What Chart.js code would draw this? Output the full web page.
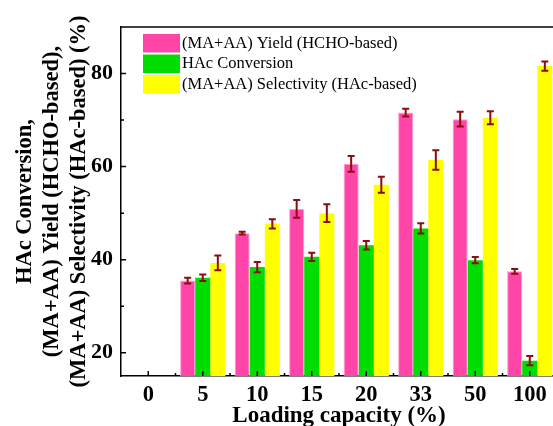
<!DOCTYPE html>
<html>
<head>
<meta charset="utf-8">
<script src="https://cdn.jsdelivr.net/npm/chart.js@4/dist/chart.umd.min.js"></script>
<style>
  html, body { margin: 0; padding: 0; overflow: hidden; background: #fff; }
  #wrap { width: 560px; height: 426px; }
</style>
</head>
<body>
<div id="wrap"><canvas id="chart"></canvas></div>
<script>
// Loading capacity (%) categories
const categories = ['0', '5', '10', '15', '20', '33', '50', '100'];

// (MA+AA) Yield (HCHO-based)
const yieldVals = [null, 35.5, 45.7, 50.9, 60.6, 71.6, 70.2, 37.5];
const yieldErr  = [0, 0.6, 0.3, 1.9, 1.7, 0.85, 1.6, 0.5];
// HAc Conversion
const convVals = [null, 36.1, 38.4, 40.6, 43.1, 46.7, 39.9, 18.3];
const convErr  = [0, 0.7, 1.1, 0.9, 0.9, 1.1, 0.65, 1.0];
// (MA+AA) Selectivity (HAc-based)
const selVals = [null, 39.3, 47.7, 50.0, 56.1, 61.4, 70.5, 81.6];
const selErr  = [0, 1.6, 1.0, 1.9, 1.7, 2.1, 1.4, 1.0];

const yMajor = [20, 40, 60, 80];
const yMinor = [30, 50, 70];

const serif = "'Liberation Serif', 'DejaVu Serif', serif";

// error bars drawn from the y scale
const errorBars = {
    id: 'errorBars',
    afterDatasetsDraw(chart) {
        const ctx = chart.ctx;
        const y = chart.scales.y;
        ctx.save();
        ctx.strokeStyle = '#8b0d0d';
        ctx.lineWidth = 2;
        chart.data.datasets.forEach((ds, di) => {
            const meta = chart.getDatasetMeta(di);
            meta.data.forEach((bar, i) => {
                const v = ds.data[i];
                if (v == null) return;
                const e = ds.errors[i];
                const top = y.getPixelForValue(v + e);
                const bot = y.getPixelForValue(v - e);
                const cap = 3.5;
                ctx.beginPath();
                ctx.moveTo(bar.x, top); ctx.lineTo(bar.x, bot);
                ctx.moveTo(bar.x - cap, top); ctx.lineTo(bar.x + cap, top);
                ctx.moveTo(bar.x - cap, bot); ctx.lineTo(bar.x + cap, bot);
                ctx.stroke();
            });
        });
        ctx.restore();
    }
};

// inward ticks, frame and the legend inside the plot
const frame = {
    id: 'frame',
    afterDraw(chart) {
        const ctx = chart.ctx;
        const a = chart.chartArea;
        const x = chart.scales.x, y = chart.scales.y;
        ctx.save();
        ctx.strokeStyle = '#000';
        ctx.lineWidth = 1.5;
        ctx.beginPath();
        ctx.moveTo(a.left, a.top); ctx.lineTo(a.right, a.top); ctx.lineTo(a.right, a.bottom);
        yMajor.forEach(v => {
            const py = y.getPixelForValue(v);
            ctx.moveTo(a.left, py); ctx.lineTo(a.left + 5, py);
        });
        yMinor.forEach(v => {
            const py = y.getPixelForValue(v);
            ctx.moveTo(a.left, py); ctx.lineTo(a.left + 3, py);
        });
        const half = (x.getPixelForValue(1) - x.getPixelForValue(0)) / 2;
        categories.forEach((c, i) => {
            const px = x.getPixelForValue(i);
            ctx.moveTo(px, a.bottom); ctx.lineTo(px, a.bottom - 5);
            ctx.moveTo(px + half, a.bottom); ctx.lineTo(px + half, a.bottom - 3);
        });
        ctx.stroke();

        // legend
        ctx.font = '16.5px ' + serif;
        ctx.textBaseline = 'middle';
        ctx.textAlign = 'left';
        const lx = a.left + 22;
        let ly = a.top + 7;
        chart.data.datasets.forEach(ds => {
            ctx.fillStyle = ds.backgroundColor;
            ctx.fillRect(lx, ly, 37, 18.5);
            ctx.fillStyle = '#000';
            ctx.fillText(ds.label, lx + 39, ly + 9.5);
            ly += 20.5;
        });
        ctx.restore();
    }
};

new Chart(document.getElementById('chart'), {
    type: 'bar',
    data: {
        labels: categories,
        datasets: [{
            label: '(MA+AA) Yield (HCHO-based)',
            data: yieldVals,
            errors: yieldErr,
            backgroundColor: '#ff45a8',
            borderColor: '#ff9ccf',
            borderWidth: 1,
        }, {
            label: 'HAc Conversion',
            data: convVals,
            errors: convErr,
            backgroundColor: '#00dd00',
            borderColor: '#00dd00',
            borderWidth: 0,
        }, {
            label: '(MA+AA) Selectivity (HAc-based)',
            data: selVals,
            errors: selErr,
            backgroundColor: '#ffff00',
            borderColor: '#ffff00',
            borderWidth: 0,
        }]
    },
    options: {
        responsive: true,
        maintainAspectRatio: false,
        animation: false,
        layout: { padding: { top: 27, right: 3, left: 0, bottom: 0 } },
        datasets: { bar: { categoryPercentage: 0.83, barPercentage: 1.0 } },
        scales: {
            x: {
                grid: { display: false, drawTicks: false },
                border: { display: true, color: '#000', width: 1.5 },
                ticks: { color: '#000', padding: 6, font: { family: serif, size: 22.5, weight: 'bold' } },
                title: {
                    display: true,
                    text: 'Loading capacity (%)',
                    color: '#000',
                    padding: { top: 0, bottom: 0 },
                    font: { family: serif, size: 23, weight: 'bold', lineHeight: 0.85 }
                },
                afterFit(scale) { scale.height = 50; }
            },
            y: {
                min: 15,
                max: 90,
                afterBuildTicks(scale) { scale.ticks = yMajor.map(v => ({ value: v })); },
                grid: { display: false, drawTicks: false },
                border: { display: true, color: '#000', width: 1.5 },
                ticks: { color: '#000', padding: 8, font: { family: serif, size: 22, weight: 'bold' } },
                title: {
                    display: true,
                    text: ['HAc Conversion,', '(MA+AA) Yield (HCHO-based),', '(MA+AA) Selectivity (HAc-based) (%)'],
                    color: '#000',
                    padding: { top: 12, bottom: 0 },
                    font: { family: serif, size: 22.5, weight: 'bold', lineHeight: 1.2 }
                },
                afterFit(scale) { scale.width = 121; }
            }
        },
        plugins: {
            legend: { display: false },
            tooltip: { enabled: false }
        }
    },
    plugins: [errorBars, frame]
});
</script>
</body>
</html>
